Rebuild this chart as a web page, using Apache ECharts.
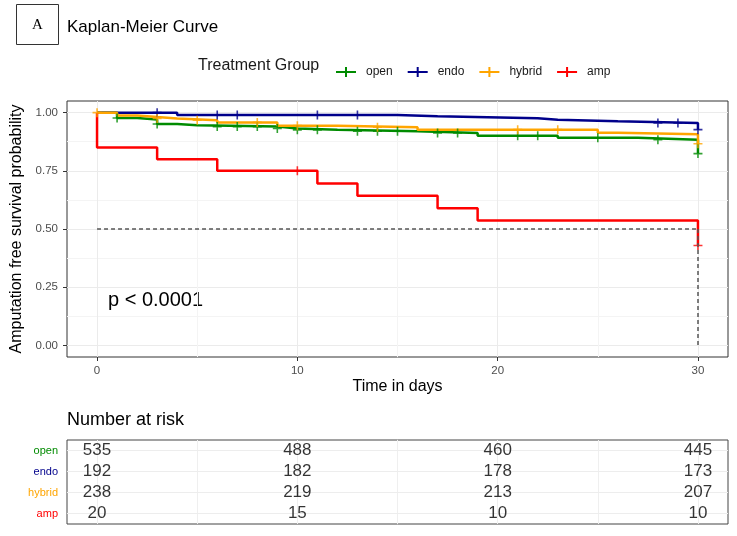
<!DOCTYPE html>
<html lang="en">

<head>
  <meta charset="utf-8">
  <title>Kaplan-Meier Curve</title>
  <style>
    * {
      margin: 0;
      padding: 0;
    }

    #chart-container {
      position: relative;
      width: 737px;
      height: 536px;
      overflow: hidden;
      background: #fff;
    }
  </style>
</head>

<body>
  <div id="chart-container"></div>
  <script src="https://cdn.jsdelivr.net/npm/echarts@6/dist/echarts.min.js"></script>
  <script>
    var dom = document.getElementById('chart-container');
    var myChart = echarts.init(dom, null, {
      renderer: 'canvas',
      useDirtyRect: false
    });

    var groups = ['open', 'endo', 'hybrid', 'amp'];
    var colors = ['#008b00', '#00008b', '#ffa500', '#ff0000'];

    // Kaplan-Meier steps: time in days, survival after the step
    var openTime = [0, 1, 2, 3, 4, 5, 9, 10, 12, 16, 19, 23, 27, 30];
    var openSurv = [1, 0.977, 0.970, 0.951, 0.946, 0.940, 0.932, 0.926, 0.920, 0.913, 0.901, 0.892, 0.884, 0.824];
    var openCensor = [1, 3, 6, 7, 8, 9, 10, 11, 13, 14, 15, 17, 18, 21, 22, 25, 28, 30];

    var endoTime = [0, 4, 15, 17, 22, 23, 26, 30];
    var endoSurv = [1, 0.990, 0.984, 0.976, 0.969, 0.963, 0.956, 0.927];
    var endoCensor = [3, 6, 7, 11, 13, 28, 29, 30];

    var hybridTime = [0, 1, 2, 3, 4, 6, 9, 12, 16, 25, 26, 30];
    var hybridSurv = [1, 0.988, 0.981, 0.975, 0.967, 0.958, 0.944, 0.937, 0.927, 0.914, 0.907, 0.866];
    var hybridCensor = [0, 3, 5, 8, 10, 14, 21, 23, 30];

    var ampTime = [0, 0, 3, 6, 11, 13, 17, 19, 30];
    var ampSurv = [1, 0.85, 0.80, 0.75, 0.696, 0.643, 0.589, 0.536, 0.429];
    var ampCensor = [10, 30];

    var medianLevel = 0.5;
    var medianTime = 30;

    // number at risk table
    var riskTimes = [0, 10, 20, 30];
    var riskOpen = [535, 488, 460, 445];
    var riskEndo = [192, 182, 178, 173];
    var riskHybrid = [238, 219, 213, 207];
    var riskAmp = [20, 15, 10, 10];

    var xTicks = [0, 10, 20, 30];
    var xMinor = [5, 15, 25];
    var tableGridX = [0, 5, 10, 15, 20, 25, 30];
    var yTicks = [0, 0.25, 0.5, 0.75, 1];
    var yMinor = [0.125, 0.375, 0.625, 0.875];

    var times = [openTime, endoTime, hybridTime, ampTime];
    var survs = [openSurv, endoSurv, hybridSurv, ampSurv];
    var censors = [openCensor, endoCensor, hybridCensor, ampCensor];
    var risks = [riskOpen, riskEndo, riskHybrid, riskAmp];

    var font = '"Liberation Sans", Arial, sans-serif';
    var plusPath = 'path://M0,-1L0,1M-1,0L1,0';
    var legendIcon = 'path://M0,5L20,5M10,0L10,10';

    // survival value of the step curve at time t
    function survAt(ts, ss, t) {
      var v = ss[0];
      for (var i = 0; i < ts.length; i++) {
        if (ts[i] <= t) v = ss[i];
      }
      return v;
    }

    var series = [];
    groups.forEach(function (g, i) {
      var line = {
        name: g,
        type: 'line',
        xAxisIndex: 0,
        yAxisIndex: 0,
        step: 'end',
        symbol: 'none',
        z: 2,
        lineStyle: { width: 2.5, color: colors[i] },
        itemStyle: { color: colors[i] },
        emphasis: { disabled: true },
        data: times[i].map(function (t, j) { return [t, survs[i][j]]; })
      };
      if (g === 'amp') {
        line.markLine = {
          silent: true,
          symbol: 'none',
          label: { show: false },
          lineStyle: { type: [4, 3], color: '#555', width: 1.5 },
          data: [
            [{ coord: [0, medianLevel] }, { coord: [medianTime, medianLevel] }],
            [{ coord: [medianTime, medianLevel] }, { coord: [medianTime, 0] }]
          ]
        };
      }
      series.push(line);
    });
    groups.forEach(function (g, i) {
      series.push({
        name: g,
        type: 'scatter',
        xAxisIndex: 0,
        yAxisIndex: 0,
        symbol: plusPath,
        symbolSize: 9,
        z: 3,
        itemStyle: { color: colors[i], borderColor: colors[i], borderWidth: 1.6 },
        emphasis: { disabled: true },
        data: censors[i].map(function (t) { return [t, survAt(times[i], survs[i], t)]; })
      });
    });
    // risk table numbers
    var riskData = [];
    groups.forEach(function (g, i) {
      riskTimes.forEach(function (t, j) {
        riskData.push([t, g, risks[i][j]]);
      });
    });
    series.push({
      name: 'risk',
      type: 'scatter',
      xAxisIndex: 2,
      yAxisIndex: 2,
      symbolSize: 1,
      z: 3,
      itemStyle: { color: 'rgba(0,0,0,0)' },
      emphasis: { disabled: true },
      label: {
        show: true,
        position: 'inside',
        formatter: function (p) { return p.value[2]; },
        fontSize: 17,
        fontFamily: font,
        color: '#000'
      },
      markLine: {
        silent: true,
        z: 0,
        symbol: 'none',
        label: { show: false },
        lineStyle: { type: 'solid', color: '#ededed', width: 1 },
        data: groups.map(function (g) { return { yAxis: g }; })
      },
      data: riskData
    });

    var rich = {};
    groups.forEach(function (g, i) {
      rich[g] = { color: colors[i], fontSize: 11, fontFamily: font };
    });

    var option = {
      animation: false,
      backgroundColor: '#fff',
      textStyle: { fontFamily: font },
      legend: {
        left: 330,
        top: 61,
        orient: 'horizontal',
        itemWidth: 20,
        itemHeight: 10,
        itemGap: 14,
        selectedMode: false,
        textStyle: { fontSize: 12, color: '#1a1a1a', fontFamily: font, padding: [0, 0, 0, 5] },
        data: groups.map(function (g, i) {
          return {
            name: g,
            icon: legendIcon,
            itemStyle: { color: colors[i], borderColor: colors[i], borderWidth: 2 }
          };
        })
      },
      graphic: [
        {
          type: 'rect',
          shape: { x: 16.5, y: 4.5, width: 42, height: 40 },
          style: { fill: '#fff', stroke: '#333', lineWidth: 1 }
        },
        {
          type: 'text',
          x: 37.5,
          y: 25.5,
          style: { text: 'A', font: '15px "Liberation Serif", "DejaVu Serif", serif', fill: '#000', align: 'center', verticalAlign: 'middle' }
        },
        {
          type: 'text',
          x: 67,
          y: 27,
          style: { text: 'Kaplan-Meier Curve', font: '17px ' + font, fill: '#000', align: 'left', verticalAlign: 'middle' }
        },
        {
          type: 'text',
          x: 198,
          y: 66,
          style: { text: 'Treatment Group', font: '16px ' + font, fill: '#1a1a1a', align: 'left', verticalAlign: 'middle' }
        },
        {
          type: 'text',
          x: 108,
          y: 300,
          style: { text: 'p < 0.0001', font: '20px ' + font, fill: '#000', align: 'left', verticalAlign: 'middle' }
        },
        {
          type: 'text',
          x: 67,
          y: 420,
          style: { text: 'Number at risk', font: '18px ' + font, fill: '#000', align: 'left', verticalAlign: 'middle' }
        }
      ],
      grid: [
        {
          left: 67, top: 101, width: 661, height: 256,
          show: true, borderColor: '#333', borderWidth: 1,
          containLabel: false, outerBoundsMode: 'none'
        },
        {
          left: 67, top: 440, width: 661, height: 84,
          show: true, borderColor: '#444', borderWidth: 1,
          containLabel: false, outerBoundsMode: 'none'
        }
      ],
      xAxis: [
        {
          type: 'value', gridIndex: 0, min: -1.5, max: 31.5, position: 'bottom',
          name: 'Time in days', nameLocation: 'middle', nameGap: 22,
          nameTextStyle: { fontSize: 16, color: '#000', fontFamily: font },
          axisLine: { show: false, onZero: false },
          axisTick: { show: true, length: 4, lineStyle: { color: '#333' }, customValues: xTicks },
          axisLabel: { customValues: xTicks, fontSize: 11.5, color: '#4d4d4d', margin: 8 },
          splitLine: { show: true, lineStyle: { color: '#ebebeb', width: 1 } }
        },
        {
          type: 'value', gridIndex: 0, min: -1.5, max: 31.5, position: 'bottom',
          axisLine: { show: false, onZero: false },
          axisTick: { show: false, customValues: xMinor },
          axisLabel: { show: false },
          splitLine: { show: true, lineStyle: { color: '#f4f4f4', width: 1 } }
        },
        {
          type: 'value', gridIndex: 1, min: -1.5, max: 31.5,
          axisLine: { show: false, onZero: false },
          axisTick: { show: false, customValues: tableGridX },
          axisLabel: { show: false },
          splitLine: { show: true, lineStyle: { color: '#efefef', width: 1 } }
        }
      ],
      yAxis: [
        {
          type: 'value', gridIndex: 0, min: -0.05, max: 1.05, position: 'left',
          name: 'Amputation free survival probability', nameLocation: 'middle', nameGap: 42,
          nameTextStyle: { fontSize: 16, color: '#000', fontFamily: font },
          axisLine: { show: false, onZero: false },
          axisTick: { show: true, length: 4, lineStyle: { color: '#333' }, customValues: yTicks },
          axisLabel: {
            customValues: yTicks, fontSize: 11.5, color: '#4d4d4d', margin: 9,
            formatter: function (v) { return v.toFixed(2); }
          },
          splitLine: { show: true, lineStyle: { color: '#ebebeb', width: 1 } }
        },
        {
          type: 'value', gridIndex: 0, min: -0.05, max: 1.05, position: 'left',
          axisLine: { show: false, onZero: false },
          axisTick: { show: false, customValues: yMinor },
          axisLabel: { show: false },
          splitLine: { show: true, lineStyle: { color: '#f4f4f4', width: 1 } }
        },
        {
          type: 'category', gridIndex: 1, inverse: true, data: groups,
          axisLine: { show: false, onZero: false },
          axisTick: { show: false },
          splitLine: { show: false },
          axisLabel: {
            margin: 9,
            formatter: function (v) { return '{' + v + '|' + v + '}'; },
            rich: rich
          }
        }
      ],
      series: series
    };

    if (option && typeof option === 'object') {
      myChart.setOption(option);
    }

    window.addEventListener('resize', myChart.resize);
  </script>
</body>

</html>
